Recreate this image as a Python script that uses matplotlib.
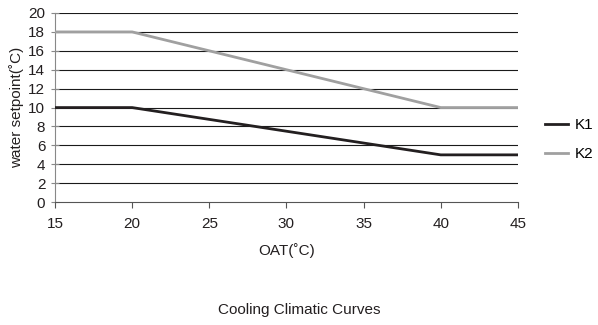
import matplotlib
matplotlib.use("Agg")
import matplotlib.pyplot as plt

plt.rcParams["font.family"] = ["Liberation Sans", "DejaVu Sans"]

# 데이터
oat = [15, 20, 40, 45]
k1 = [10, 10, 5, 5]
k2 = [18, 18, 10, 10]
series_names = ["K1", "K2"]
series_colors = ["#231f20", "#a0a0a0"]
y_ticks = list(range(0, 21, 2))
x_ticks = [15, 20, 25, 30, 35, 40, 45]

FS = 11

fig = plt.figure(figsize=(5.98, 3.25), dpi=100)
ax = fig.add_axes([0.092, 0.378, 0.774, 0.582])

for y in y_ticks[1:]:
    ax.axhline(y, color="#1a1a1a", lw=0.8, zorder=1)

for vals, name, c in zip([k1, k2], series_names, series_colors):
    ax.plot(oat, vals, color=c, lw=2, label=name, zorder=3)

ax.set_xlim(15, 45)
ax.set_ylim(0, 20)
ax.set_xticks(x_ticks)
ax.set_yticks(y_ticks)
ax.tick_params(axis="both", labelsize=FS, colors="#231f20", width=0.8)
ax.tick_params(axis="x", length=4, pad=7, color="#555555")
ax.tick_params(axis="y", direction="inout", length=6, pad=4, color="#888888")
for s in ["top", "right"]:
    ax.spines[s].set_visible(False)
ax.spines["left"].set_color("#888888")
ax.spines["bottom"].set_color("#555555")

ax.set_ylabel("water setpoint(˚C)", fontsize=FS, color="#231f20", labelpad=3)
ax.set_xlabel("OAT(˚C)", fontsize=FS, color="#231f20", labelpad=8)

ax.legend(loc="center left", bbox_to_anchor=(1.058, 0.33), frameon=False,
          fontsize=FS, handlelength=1.55, handletextpad=0.4, labelspacing=0.95,
          borderpad=0, borderaxespad=0)

fig.text(0.5, 0.046, "Cooling Climatic Curves", ha="center", va="center",
         fontsize=FS, color="#231f20")

fig.savefig("out.png", dpi=100)
